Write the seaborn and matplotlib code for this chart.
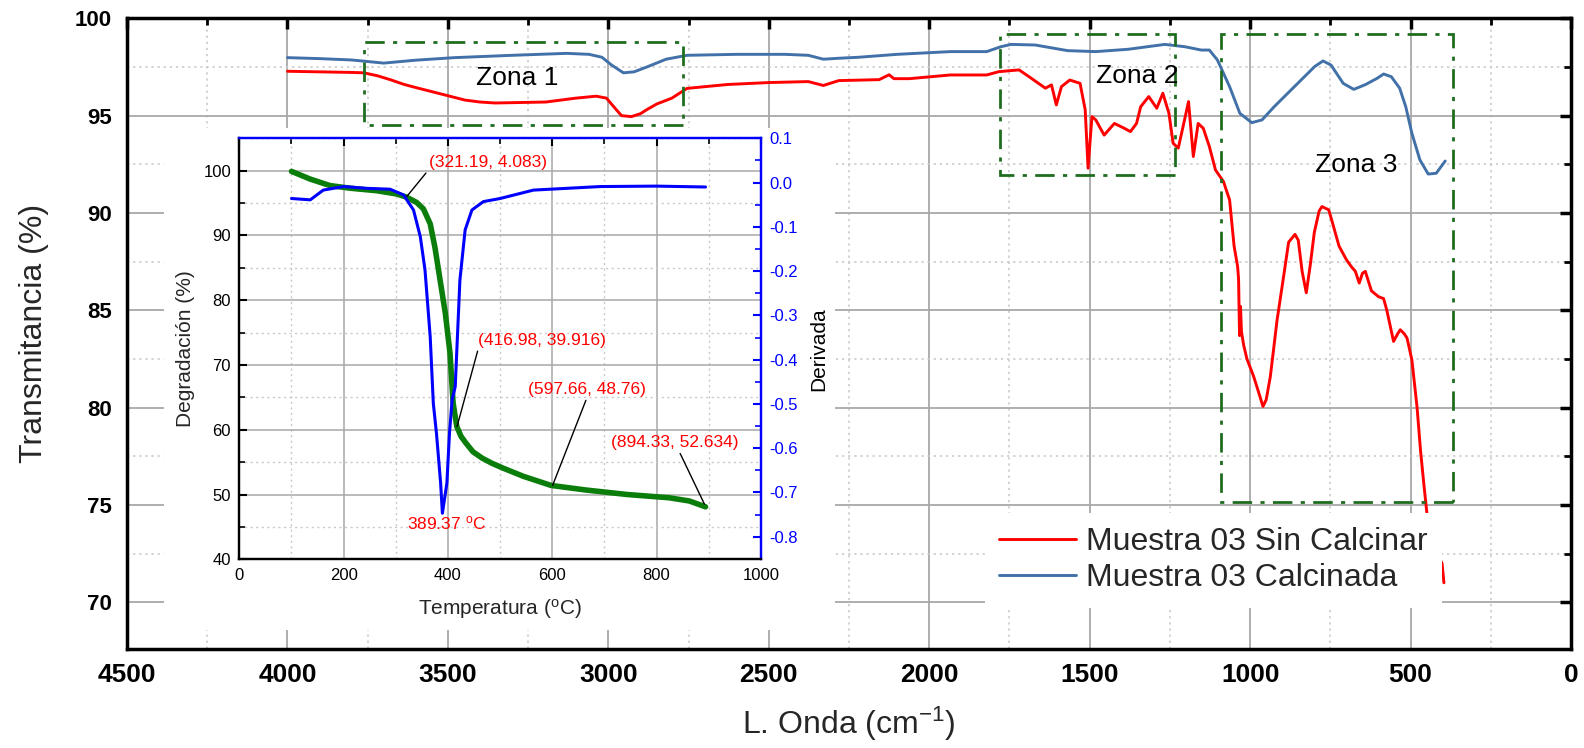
import matplotlib
matplotlib.use("Agg")
import numpy as np
import matplotlib.pyplot as plt
from matplotlib.patches import Rectangle
from matplotlib.ticker import MultipleLocator
import seaborn as sns

# ---- FTIR spectra ----
wn_sin = [4000, 3900, 3800, 3762, 3720, 3680, 3636, 3590, 3542, 3447, 3400, 3353, 3195,
          3101, 3038, 3006, 2975, 2959, 2928, 2900, 2881, 2849, 2802,
          2755, 2629, 2500, 2377, 2330, 2282, 2156, 2125, 2110, 2062,
          1934, 1821, 1783, 1720, 1682, 1638, 1619, 1604, 1588, 1562,
          1530, 1514, 1505, 1493, 1481, 1455, 1423, 1392, 1373, 1354,
          1341, 1316, 1291, 1272, 1253, 1240, 1224, 1209, 1192, 1177,
          1162, 1146, 1127, 1108, 1083, 1064, 1050, 1039, 1036, 1033,
          1030, 1027, 1020, 1010, 989, 970, 960, 950, 937, 916,
          896, 880, 860, 850, 838, 825, 812, 800, 785, 776,
          755, 740, 723, 700, 685, 672, 660, 650, 641, 622,
          600, 584, 574, 553, 540, 532, 520, 511, 496, 480,
          469, 459, 448, 435, 420, 402, 396]
t_sin = [97.28, 97.25, 97.22, 97.2, 97.05, 96.85, 96.6, 96.4, 96.2, 95.8, 95.7, 95.65, 95.7,
         95.9, 96.0, 95.9, 95.3, 95.0, 94.95, 95.1, 95.3, 95.6, 95.9,
         96.4, 96.6, 96.7, 96.75, 96.55, 96.8, 96.85, 97.1, 96.9, 96.9,
         97.09, 97.09, 97.26, 97.35, 96.92, 96.41, 96.58, 95.55, 96.49, 96.83,
         96.66, 95.3, 92.3, 94.95, 94.78, 94.0, 94.6, 94.35, 94.18, 94.6,
         95.46, 95.98, 95.38, 96.15, 95.12, 93.58, 93.33, 94.44, 95.72, 92.9,
         94.6, 94.35, 93.41, 92.21, 91.61, 90.67, 88.3, 87.25, 86.6, 83.7,
         85.2, 83.9, 83.2, 82.5, 81.6, 80.6, 80.06, 80.4, 81.6, 84.5,
         86.7, 88.5, 88.9, 88.6, 87.0, 85.9, 87.4, 89.0, 90.1, 90.33,
         90.16, 89.3, 88.3, 87.6, 87.25, 87.0, 86.4, 86.9, 87.0, 86.0,
         85.7, 85.6, 85.0, 83.4, 83.8, 84.0, 83.8, 83.57, 82.46, 80.06,
         77.8, 76.13, 74.4, 73.4, 72.6, 72.0, 71.0]

wn_calc = [4000, 3900, 3800, 3762, 3700, 3600, 3480, 3300, 3130, 3060,
           3020, 2990, 2953, 2920, 2880, 2820, 2755, 2600, 2450, 2377,
           2330, 2280, 2220, 2100, 1934, 1821, 1777, 1745, 1670, 1569,
           1481, 1380, 1266, 1203, 1152, 1127, 1102, 1064, 1032, 995,
           963, 925, 862, 799, 773, 748, 710, 677, 640, 604,
           584, 560, 534, 515, 496, 471, 445, 420, 392]
t_calc = [97.98, 97.93, 97.86, 97.8, 97.7, 97.85, 97.98, 98.1, 98.2, 98.15,
          98.0, 97.6, 97.2, 97.25, 97.5, 97.9, 98.1, 98.15, 98.15, 98.1,
          97.9, 97.95, 98.0, 98.15, 98.29, 98.29, 98.54, 98.66, 98.63, 98.34,
          98.29, 98.41, 98.66, 98.54, 98.37, 98.37, 97.86, 96.49, 95.12, 94.64,
          94.78, 95.46, 96.49, 97.52, 97.81, 97.6, 96.66, 96.35, 96.6, 96.92,
          97.14, 97.0, 96.41, 95.46, 94.1, 92.73, 92.0, 92.04, 92.67]

series_labels = ["Muestra 03 Sin Calcinar", "Muestra 03 Calcinada"]

zonas = ["Zona 1", "Zona 2", "Zona 3"]
zona_x = [(2767, 3762), (1233, 1778), (368, 1092)]
zona_y = [(94.51, 98.76), (91.96, 99.17), (75.15, 99.22)]
zona_label_xy = [(3284, 96.94), (1353, 97.05), (670, 92.48)]

# ---- TGA / DTG inset ----
temp_tga = [100, 136, 174, 212, 264, 302, 321, 340, 353, 366, 375, 385, 395,
            404, 410, 417, 425, 434, 448, 466, 485, 505, 545, 598, 664, 744, 824, 863, 894]
degradacion = [99.9, 98.7, 97.7, 97.3, 96.9, 96.4, 95.9, 95.1, 94.1, 91.8, 88.2, 83.1, 78.0,
               71.8, 64.1, 60.5, 59.0, 58.0, 56.6, 55.6, 54.8, 54.1, 52.8, 51.4, 50.7, 50.0,
               49.5, 49.0, 48.1]

temp_dtg = [100, 136, 161, 200, 244, 289, 315, 334, 347, 356, 366, 372, 378, 386, 389.4,
            398, 403, 408, 414, 423, 433, 446, 468, 500, 564, 628, 692, 800, 894]
derivada = [-0.036, -0.039, -0.017, -0.009, -0.013, -0.015, -0.028, -0.062, -0.122, -0.197,
            -0.348, -0.499, -0.566, -0.679, -0.747, -0.679, -0.566, -0.491, -0.461, -0.22,
            -0.107, -0.062, -0.043, -0.036, -0.017, -0.013, -0.009, -0.008, -0.01]

ann_labels = ["(321.19, 4.083)", "(416.98, 39.916)", "(597.66, 48.76)", "(894.33, 52.634)"]
ann_points = [(321, 96.0), (417.5, 60.5), (600.7, 51.4), (892, 48.5)]
ann_text_xy = [(363, 101.3), (458.6, 73.8), (554, 66.2), (835, 58.0)]
ann_ha = ["left", "left", "left", "center"]
ann_relx = [0.0, 0.0, 0.5, 0.53]
pico_label = "389.37 $^{\\mathrm{o}}$C"
pico_xy = (398, 45.6)

sns.set_theme(style="white")
plt.rcParams["font.family"] = ["Liberation Sans", "DejaVu Sans"]
plt.rcParams["axes.unicode_minus"] = False
plt.rcParams["mathtext.fontset"] = "custom"
plt.rcParams["mathtext.rm"] = "Liberation Sans"
plt.rcParams["mathtext.it"] = "Liberation Sans:italic"
plt.rcParams["mathtext.bf"] = "Liberation Sans:bold"

fig = plt.figure(figsize=(15.84, 7.48), dpi=100)
ax = fig.add_axes([0.0802, 0.1324, 0.9116, 0.8431], zorder=0)

sns.lineplot(x=wn_sin, y=t_sin, ax=ax, color="#ff0000", lw=2.1,
             label=series_labels[0], estimator=None, sort=False)
sns.lineplot(x=wn_calc, y=t_calc, ax=ax, color="#4171a8", lw=2.1,
             label=series_labels[1], estimator=None, sort=False)

ax.set_xlim(4500, 0)
ax.set_ylim(67.6, 100)
ax.xaxis.set_major_locator(MultipleLocator(500))
ax.xaxis.set_minor_locator(MultipleLocator(250))
ax.yaxis.set_major_locator(MultipleLocator(5))
ax.yaxis.set_minor_locator(MultipleLocator(2.5))
ax.set_axisbelow(True)
ax.grid(which="major", color="#a8a8a8", lw=1.3, ls="-")
ax.grid(which="minor", color="#c8c8c8", lw=1.1, ls=(0, (1.5, 2.5)))
ax.tick_params(which="both", direction="in", top=True, right=True, colors="black")
ax.tick_params(which="major", length=8, width=2.5)
ax.tick_params(which="minor", length=5, width=2)
ax.tick_params(axis="x", which="major", pad=10, labelsize=19)
ax.tick_params(axis="y", which="major", pad=11, labelsize=16)
for lab in ax.get_xticklabels() + ax.get_yticklabels():
    lab.set_fontweight("bold")
for sp in ax.spines.values():
    sp.set_color("black")
    sp.set_linewidth(2.5)

ax.set_xlabel("L. Onda (cm$^{\\mathrm{-1}}$)", fontsize=23)
ax.set_ylabel("Transmitancia (%)", fontsize=23)
ax.xaxis.set_label_coords(0.5, -0.088)
ax.yaxis.set_label_coords(-0.054, 0.5)

for name, (x0, x1), (y0, y1), (tx, ty) in zip(zonas, zona_x, zona_y, zona_label_xy):
    ax.add_patch(Rectangle((x0, y0), x1 - x0, y1 - y0, fill=False, edgecolor="#1f6e1f",
                           lw=2, ls=(0, (7, 3, 1.5, 3)), zorder=3))
    ax.text(tx, ty, name, fontsize=19, ha="center", va="center", color="black", zorder=4)

ax.legend(loc="center", bbox_to_anchor=(0.766, 0.251), bbox_transform=fig.transFigure,
          fontsize=23, frameon=True, framealpha=1, facecolor="white", edgecolor="none",
          fancybox=False, handlelength=2.4, handletextpad=0.3, labelspacing=0.2,
          borderpad=0.45)

# white area behind the inset
fig.patches.append(Rectangle((0.1035, 0.1578), 0.4236, 0.6711, transform=fig.transFigure,
                             facecolor="white", edgecolor="none", zorder=1))

axin = fig.add_axes([0.1511, 0.2523, 0.3292, 0.5628], zorder=2)
ax2 = axin.twinx()

sns.lineplot(x=temp_tga, y=degradacion, ax=axin, color="#0a7d0a", lw=4,
             estimator=None, sort=False)
sns.lineplot(x=temp_dtg, y=derivada, ax=ax2, color="#0000ff", lw=2.2,
             estimator=None, sort=False)

axin.set_xlim(0, 1000)
axin.set_ylim(40, 105)
ax2.set_ylim(-0.851, 0.1)
axin.xaxis.set_major_locator(MultipleLocator(200))
axin.xaxis.set_minor_locator(MultipleLocator(100))
axin.yaxis.set_major_locator(MultipleLocator(10))
axin.yaxis.set_minor_locator(MultipleLocator(5))
axin.set_yticks(np.arange(40, 101, 10))
ax2.set_yticks(np.round(np.arange(-0.8, 0.11, 0.1), 1))
ax2.yaxis.set_minor_locator(MultipleLocator(0.05))
axin.set_axisbelow(True)
axin.grid(which="major", color="#a8a8a8", lw=1.1, ls="-")
axin.grid(which="minor", color="#c8c8c8", lw=1.0, ls=(0, (1.5, 2.5)))
axin.tick_params(which="both", direction="in", top=True, colors="black", labelsize=12, pad=6)
axin.tick_params(which="major", length=6, width=1.5)
axin.tick_params(which="minor", length=4, width=1.2)
ax2.tick_params(which="both", direction="in", colors="blue", labelsize=12, pad=6)
ax2.tick_params(which="major", length=6, width=1.5)
ax2.tick_params(which="minor", length=4, width=1.2)
for a in (axin, ax2):
    a.spines["left"].set_color("black")
    a.spines["bottom"].set_color("black")
    a.spines["top"].set_color("blue")
    a.spines["right"].set_color("blue")
    for sp in a.spines.values():
        sp.set_linewidth(1.6)
for t in axin.xaxis.get_major_ticks() + axin.xaxis.get_minor_ticks():
    t.tick2line.set_color("blue")

axin.set_xlabel("Temperatura ($^{\\mathrm{o}}$C)", fontsize=15, labelpad=10)
axin.set_ylabel("Degradación (%)", fontsize=15, labelpad=6)
ax2.set_ylabel("Derivada", fontsize=15, labelpad=8, color="black")

for txt, pt, xy, ha, rx in zip(ann_labels, ann_points, ann_text_xy, ann_ha, ann_relx):
    axin.annotate(txt, xy=pt, xytext=xy, ha=ha, va="center", color="red", fontsize=12.5,
                  arrowprops=dict(arrowstyle="-", color="black", lw=1,
                                  shrinkA=0, shrinkB=0, relpos=(rx, 0.0)), zorder=5)
axin.text(pico_xy[0], pico_xy[1], pico_label, color="red", fontsize=12.5,
          ha="center", va="center", zorder=5)

fig.savefig("out.png", dpi=100)
